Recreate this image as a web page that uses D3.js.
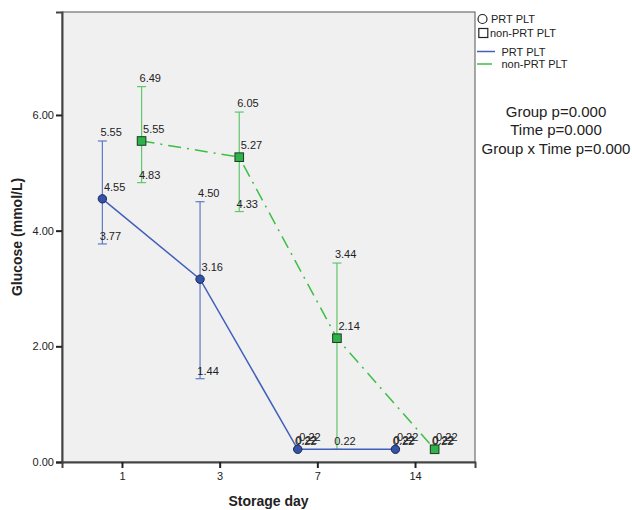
<!DOCTYPE html>
<html><head><meta charset="utf-8">
<script src="https://cdn.jsdelivr.net/npm/d3@7"></script>
<style>body{margin:0;background:#fff;} text{font-family:"Liberation Sans",Arial,sans-serif;}</style>
</head><body><svg id="c" width="632" height="510"></svg>
<script>
const days = ["1","3","7","14"];
const seriesNames = ["PRT PLT","non-PRT PLT"];
const prtMean  = [4.55, 3.16, 0.22, 0.22];
const prtUpper = [5.55, 4.50, 0.22, 0.22];
const prtLower = [3.77, 1.44, 0.22, 0.22];
const nonMean  = [5.55, 5.27, 2.14, 0.22];
const nonUpper = [6.49, 6.05, 3.44, 0.22];
const nonLower = [4.83, 4.33, 0.22, 0.22];
const yTicks = [0, 2, 4, 6];
const statsText = ["Group p=0.000","Time p=0.000","Group x Time p=0.000"];

const svg = d3.select("#c");
const L=62, R=475, T=12, B=462;
const x = d3.scalePoint().domain(days).range([L,R]).padding(0.614);
const y = d3.scaleLinear().domain([0,7.78]).range([B,T]);
const off = 19.6;

svg.append("rect").attr("x",L).attr("y",T).attr("width",R-L).attr("height",B-T)
  .attr("fill","#f0f0f0").attr("stroke","#555").attr("stroke-width",1);

// axes
const ya = svg.append("g").attr("transform",`translate(${L},0)`)
  .call(d3.axisLeft(y).tickValues(yTicks).tickFormat(d3.format(".2f")).tickSize(6).tickPadding(2));
const xa = svg.append("g").attr("transform",`translate(0,${B})`)
  .call(d3.axisBottom(x).tickSize(6).tickPadding(4));
[ya,xa].forEach(g=>{
  g.select(".domain").attr("stroke","#444").attr("stroke-width",2);
  g.selectAll(".tick line").attr("stroke","#222").attr("stroke-width",2);
  g.selectAll(".tick text").attr("fill","#222").style("font-size","11px").style("font-family","'Liberation Sans',Arial,sans-serif");
});

svg.append("text").attr("transform","translate(22,237) rotate(-90)").attr("text-anchor","middle")
  .style("font-size","14px").style("font-weight","bold").attr("fill","#222").text("Glucose (mmol/L)");
svg.append("text").attr("x",268.5).attr("y",506).attr("text-anchor","middle")
  .style("font-size","14px").style("font-weight","bold").attr("fill","#222").text("Storage day");

const series = [
  {name:seriesNames[0], mean:prtMean, up:prtUpper, lo:prtLower, dx:-off, line:"#4060bb", err:"#6078c8", fill:"#3352a8", dash:null, shape:"circle"},
  {name:seriesNames[1], mean:nonMean, up:nonUpper, lo:nonLower, dx:off, line:"#3cbf45", err:"#5ec86a", fill:"#2db34a", dash:"13,6,2,6", shape:"square"}
];

const labels = svg.append("g");
series.slice().reverse().forEach(s=>{
  const g = svg.append("g");
  days.forEach((d,i)=>{
    const cx = x(d)+s.dx;
    g.append("line").attr("x1",cx).attr("x2",cx).attr("y1",y(s.up[i])).attr("y2",y(s.lo[i])).attr("stroke",s.err).attr("stroke-width",1.2);
    [s.up[i], s.lo[i]].forEach(v=>{
      g.append("line").attr("x1",cx-4.5).attr("x2",cx+4.5).attr("y1",y(v)).attr("y2",y(v)).attr("stroke",s.err).attr("stroke-width",1.2);
    });
  });
  const ln = d3.line().x((v,i)=>x(days[i])+s.dx).y(v=>y(v));
  const p = g.append("path").attr("d",ln(s.mean)).attr("fill","none").attr("stroke",s.line).attr("stroke-width",1.5);
  if(s.dash) p.attr("stroke-dasharray",s.dash);
  days.forEach((d,i)=>{
    const cx = x(d)+s.dx, cy=y(s.mean[i]);
    if(s.shape==="circle") g.append("circle").attr("cx",cx).attr("cy",cy).attr("r",4.2).attr("fill",s.fill).attr("stroke","#1c2850").attr("stroke-width",1);
    else g.append("rect").attr("x",cx-4.3).attr("y",cy-4.3).attr("width",8.6).attr("height",8.6).attr("fill",s.fill).attr("stroke","#1e3a20").attr("stroke-width",1);
    const f = d3.format(".2f");
    const t = (tx,ty,v)=>labels.append("text").attr("x",tx).attr("y",ty).style("font-size","11px").attr("fill","#222").text(f(v));
    t(cx-2, y(s.up[i])-5, s.up[i]);
    t(cx+1.5, cy-8, s.mean[i]);
    t(cx-2.7, y(s.lo[i])-4, s.lo[i]);
  });
});
labels.raise();

// legend
const lg = svg.append("g");
lg.append("circle").attr("cx",482.5).attr("cy",19).attr("r",4.5).attr("fill","#fff").attr("stroke","#222").attr("stroke-width",1.2);
lg.append("rect").attr("x",478.8).attr("y",28.5).attr("width",9).attr("height",9).attr("fill","#fff").attr("stroke","#222").attr("stroke-width",1.2);
lg.append("text").attr("x",491).attr("y",23).style("font-size","11px").attr("fill","#222").text(seriesNames[0]);
lg.append("text").attr("x",490).attr("y",37).style("font-size","11px").attr("fill","#222").text(seriesNames[1]);
lg.append("line").attr("x1",477).attr("x2",495).attr("y1",51.5).attr("y2",51.5).attr("stroke",series[0].line).attr("stroke-width",1.5);
lg.append("line").attr("x1",477).attr("x2",495).attr("y1",64).attr("y2",64).attr("stroke",series[1].line).attr("stroke-width",1.5).attr("stroke-dasharray","15,3,1,3");
lg.append("text").attr("x",501.5).attr("y",55.5).style("font-size","11px").attr("fill","#222").text(seriesNames[0]);
lg.append("text").attr("x",501.5).attr("y",68).style("font-size","11px").attr("fill","#222").text(seriesNames[1]);

const st = svg.append("g");
statsText.forEach((s,i)=>{
  st.append("text").attr("x",556).attr("y",117+i*18.3).attr("text-anchor","middle").style("font-size","15px").attr("fill","#222").text(s);
});
</script></body></html>
